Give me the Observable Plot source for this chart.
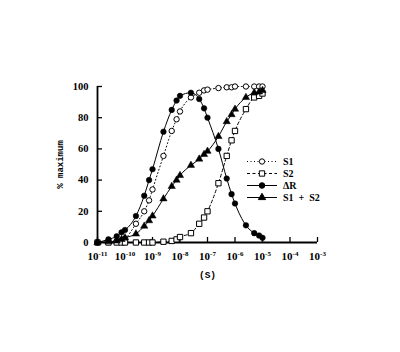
<!DOCTYPE html>
<html><head><meta charset="utf-8">
<script src="https://cdn.jsdelivr.net/npm/d3@7"></script>
<script src="https://cdn.jsdelivr.net/npm/@observablehq/plot@0.6"></script>
<style>
body{margin:0;background:#fff}
#chart{width:400px;height:352px}
</style>
</head><body><div id="chart"></div>
<script>
// Concentrations (S)
const conc = [1e-11,2.5e-11,5e-11,7.5e-11,1e-10,2.5e-10,5e-10,7.5e-10,1e-9,2.5e-9,5e-9,7.5e-9,1e-8,2.5e-8,5e-8,7.5e-8,1e-7,2.5e-7,5e-7,7.5e-7,1e-6,2.5e-6,5e-6,7.5e-6,1e-5];
// % maximum per series
const s1   = [0,0.3,1,1.5,2.5,12,20,27,34,55.5,71.5,79,84,93,96,97.5,98,99,99.5,99.5,100,100,100,100,100];
const s2   = [0,0,0,0,0,0,0,0,0,0.5,1,2,3.5,6,12,16,20,38,55.5,65.5,71.5,85.5,93,94,95.5];
const dR   = [0,2,4,6.5,8,17,30,40,47,71,85,91,94,96,92,86,80,60,41,31,25,11,6,4.5,3];
const s1s2 = [0,0.5,1,2,3,5.5,10.5,14,17,28,36,40,43,49.5,53.5,56.5,58.5,68,77.5,82,85.5,93,96,96.5,97.5];
// Axis ticks
const xTicks = [1e-11,1e-10,1e-9,1e-8,1e-7,1e-6,1e-5,1e-4,1e-3];
const xTickExp = ["-11","-10","-9","-8","-7","-6","-5","-4","-3"];
const yTicks = [0,20,40,60,80,100];
const seriesNames = ["S1","S2","\u0394R","S1 + S2"];
const yLabel = "% maximum";
const xLabel = "(S)";

const rows = (vals) => conc.map((c,i)=>({conc:c, value:vals[i]}));
const dS1 = rows(s1), dS2 = rows(s2), dDR = rows(dR), dS12 = rows(s1s2);

const FONT = "Liberation Serif";
const frameW = 400-97-83, frameH = 352-86-110;

const plot = Plot.plot({
  width: 400, height: 352,
  marginLeft: 97, marginRight: 83, marginTop: 86, marginBottom: 110,
  style: {fontFamily: FONT, fontSize: "10px", fontWeight: "bold", background: "white", color: "black"},
  x: {type: "log", domain: [1e-11, 1e-3]},
  y: {domain: [0, 100]},
  marks: [
    Plot.axisX(xTicks, {tickSize: 0, tickPadding: 10, tickFormat: (d) => "10^" + xTickExp[xTicks.indexOf(d)],
      label: xLabel, labelAnchor: "center", labelOffset: 35, labelArrow: "none"}),
    Plot.axisY(yTicks, {tickSize: 0, tickPadding: 9, tickFormat: d => String(d),
      label: yLabel, labelAnchor: "center", labelOffset: 41, labelArrow: "none"}),
    Plot.tickX(xTicks, {x: d => d, insetTop: frameH - 5, strokeWidth: 1.3}),
    Plot.tickY(yTicks, {y: d => d, insetRight: frameW - 5, strokeWidth: 1.3}),
    Plot.ruleX([1e-11], {strokeWidth: 1.8}),
    Plot.ruleY([0], {strokeWidth: 1.8}),
    Plot.line(dS1, {x: "conc", y: "value", curve: "monotone-x", strokeWidth: 1, strokeDasharray: "1,2.5"}),
    Plot.line(dS2, {x: "conc", y: "value", curve: "monotone-x", strokeWidth: 1, strokeDasharray: "3,2.5"}),
    Plot.line(dDR, {x: "conc", y: "value", curve: "monotone-x", strokeWidth: 1}),
    Plot.line(dS12, {x: "conc", y: "value", curve: "monotone-x", strokeWidth: 1}),
    Plot.dot(dS1, {x: "conc", y: "value", symbol: "circle", r: 2.7, fill: "white", stroke: "black", strokeWidth: 1}),
    Plot.dot(dS2, {x: "conc", y: "value", symbol: "square", r: 3, fill: "white", stroke: "black", strokeWidth: 1}),
    Plot.dot(dDR, {x: "conc", y: "value", symbol: "circle", r: 2.8, fill: "black", stroke: "black", strokeWidth: 0.5}),
    Plot.dot(dS12, {x: "conc", y: "value", symbol: "triangle", r: 2.7, fill: "black", stroke: "black", strokeWidth: 0.5})
  ]
});

const svg = d3.select(plot);
// tick label fonts
svg.selectAll("g[aria-label='y-axis tick label'] text").style("font-size", "10.5px");
// superscript exponents on x tick labels
svg.selectAll("g[aria-label='x-axis tick label'] text").each(function() {
  const t = this.textContent.split("^");
  const el = d3.select(this);
  el.text(null);
  el.append("tspan").style("font-size", "11px").text(t[0]);
  el.append("tspan").style("font-size", "7px").attr("dy", "-0.55em").text(t[1]);
});
svg.selectAll("g[aria-label='y-axis label'] text").style("font-size", "9px").attr("font-family", "Liberation Mono");
svg.selectAll("g[aria-label='x-axis label'] text").style("font-size", "9.5px").attr("font-family", "Liberation Mono");

// Legend
const legendLayout = {x1: 247, x2: 277, xm: 262, xt: 283, y0: 161.5, dy: 12};
const legendStyles = [
  {dash: "1,2.5", symbol: d3.symbolCircle, fill: "white", r: 2.7},
  {dash: "3,2.5", symbol: d3.symbolSquare, fill: "white", r: 3},
  {dash: null, symbol: d3.symbolCircle, fill: "black", r: 2.8},
  {dash: null, symbol: d3.symbolTriangle, fill: "black", r: 2.7}
];
const lg = svg.append("g").attr("font-family", FONT).attr("font-size", 10).attr("font-weight", "bold");
seriesNames.forEach((name, i) => {
  const st = legendStyles[i];
  const y = legendLayout.y0 + i * legendLayout.dy;
  lg.append("line").attr("x1", legendLayout.x1).attr("x2", legendLayout.x2).attr("y1", y).attr("y2", y)
    .attr("stroke", "black").attr("stroke-width", 1).attr("stroke-dasharray", st.dash);
  lg.append("path").attr("d", d3.symbol(st.symbol, Math.PI * st.r * st.r)())
    .attr("transform", `translate(${legendLayout.xm},${y})`)
    .attr("fill", st.fill).attr("stroke", "black").attr("stroke-width", 1);
  lg.append("text").attr("x", legendLayout.xt).attr("y", y).attr("dy", "0.35em")
    .attr("text-anchor", "start")
    .attr("xml:space", "preserve").style("white-space", "pre").text(name.replace(" + ", "  +  "));
});

document.getElementById("chart").appendChild(plot);
</script>
</body></html>
